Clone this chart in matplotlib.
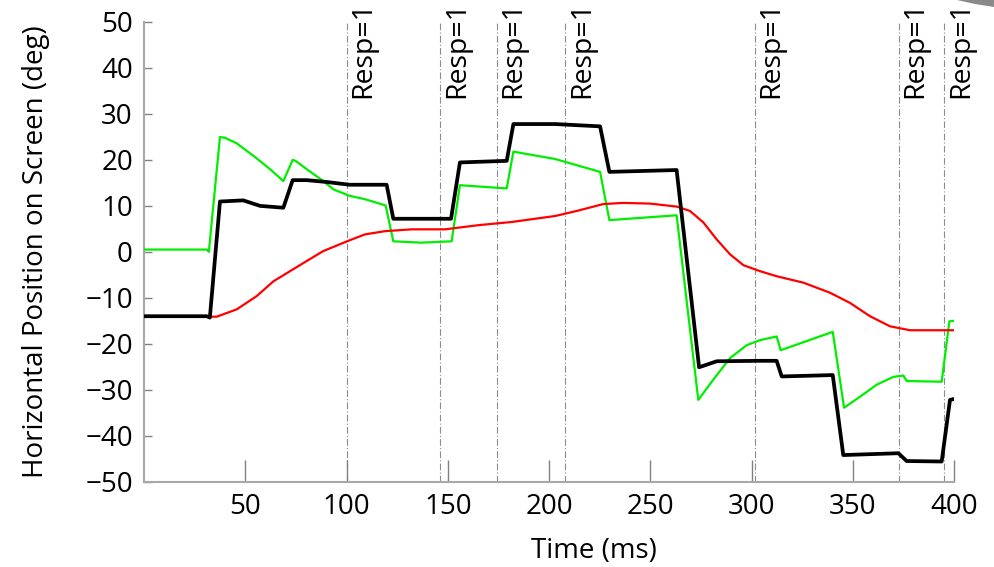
import matplotlib
matplotlib.use("Agg")
import matplotlib.pyplot as plt
from matplotlib.patches import Polygon

plt.rcParams["font.family"] = ["Open Sans", "DejaVu Sans"]

# Eye / target traces (time in ms, horizontal position in deg)
green_t = [0, 31, 32, 37.5, 40, 45.8, 54, 62.2, 68.8, 73.4, 74.8, 80.3, 88.5, 93.5, 101.4,
           109.1, 119.3, 123.1, 137, 151.9, 156, 179.1, 182.4, 203, 225.2, 229.8,
           263, 273.7, 281.1, 289.4, 297.6, 304.2, 312.4, 314.4, 340.1, 345.7,
           353.6, 361.8, 370, 375, 376.6, 393.9, 397.7, 400]
green_y = [0.5, 0.5, 0.0, 25.0, 24.8, 23.6, 20.9, 18.0, 15.4, 20.0, 19.8, 18.0, 15.4, 13.6, 12.2,
           11.45, 10.1, 2.3, 2.0, 2.3, 14.5, 13.8, 21.8, 20.2, 17.4, 6.9,
           7.96, -32.2, -27.8, -23.1, -20.3, -19.2, -18.4, -21.4, -17.4, -33.9,
           -31.5, -28.9, -27.2, -26.9, -28.1, -28.25, -15.1, -15.0]

black_t = [0, 31, 32.5, 37.5, 49, 57.3, 68.8, 73.4, 80.3, 90.2, 101.4, 119.8, 123.1,
           137, 151.6, 156, 179.1, 182.4, 203, 225.2, 229.8, 263, 274.1, 282.8,
           304.2, 312.4, 314.9, 340.1, 345.3, 372.5, 376.6, 393.9, 398, 400]
black_y = [-14.0, -14.0, -14.3, 10.95, 11.2, 10.0, 9.6, 15.6, 15.6, 15.2, 14.6, 14.6, 7.2,
           7.2, 7.2, 19.45, 19.8, 27.8, 27.8, 27.3, 17.4, 17.8, -25.1, -23.8,
           -23.7, -23.7, -27.1, -26.8, -44.2, -43.8, -45.5, -45.6, -32.2, -32.0]

red_t = [0, 35.9, 45.8, 55.7, 63.9, 72.1, 80.3, 88.5, 101.4, 109.1, 119, 132.2,
         148.6, 165, 181.6, 203, 213.7, 226.8, 236.7, 249.9, 263, 269.6, 276.2,
         282.8, 289.4, 296, 304.2, 312.4, 325.6, 338.8, 348.6, 358.5, 368.4, 378.3, 400]
red_y = [-14.1, -14.1, -12.5, -9.6, -6.4, -4.2, -2.0, 0.17, 2.5, 3.8, 4.5, 4.9,
         4.9, 5.8, 6.5, 7.8, 8.9, 10.4, 10.65, 10.5, 9.85, 8.9, 6.4,
         2.7, -0.55, -2.9, -4.2, -5.3, -6.7, -8.9, -11.1, -14.0, -16.2, -17.05, -17.05]

# Response events
resp_t = [100, 146.3, 174.2, 208, 301.5, 372.7, 395.2]
resp_label = "Resp=1"

x_ticks = [50, 100, 150, 200, 250, 300, 350, 400]
y_ticks = [-50, -40, -30, -20, -10, 0, 10, 20, 30, 40, 50]

fig = plt.figure(figsize=(9.94, 5.67), dpi=100)
ax = fig.add_axes([0.1449, 0.1504, 0.9598 - 0.1449, 0.9612 - 0.1504])

for t in resp_t:
    ax.axvline(t, color="#8c8c8c", lw=0.8, dashes=(6, 2, 1, 2), zorder=1)
    ax.annotate(resp_label, xy=(t, 54.6), xytext=(2, 0), textcoords="offset points",
                rotation=90, ha="left", va="top", fontsize=20.5, annotation_clip=False)

ax.plot(green_t, green_y, color="#00ee00", lw=1.6, zorder=3)
ax.plot(red_t, red_y, color="#ff0000", lw=1.6, zorder=3)
ax.plot(black_t, black_y, color="black", lw=2.7, zorder=4)

ax.set_xlim(0, 400)
ax.set_ylim(-50, 50)
ax.set_xticks(x_ticks)
ax.set_yticks(y_ticks)
ax.set_xticklabels([str(v) for v in x_ticks])
ax.set_yticklabels(["\u2212" + str(-v) if v < 0 else str(v) for v in y_ticks])

for side in ("top", "right"):
    ax.spines[side].set_visible(False)
for side in ("left", "bottom"):
    ax.spines[side].set_color("#a8a8a8")
    ax.spines[side].set_linewidth(1.5)

ax.tick_params(axis="x", direction="in", length=16, width=1, color="#808080",
               labelsize=20, pad=8)
ax.tick_params(axis="y", direction="in", length=6, width=1, color="#808080",
               labelsize=20, pad=8)

ax.set_ylabel("Horizontal Position on Screen (deg)", fontsize=20)
ax.yaxis.set_label_coords(-0.116, 0.5)
fig.text(594 / 994, 1 - 551 / 567, "Time (ms)", ha="center", va="center", fontsize=20)

# small shaded corner
corner = Polygon([[957 / 994, 1.0], [1.0, 1.0], [1.0, 1 - 7 / 567], [975 / 994, 1 - 4 / 567]],
                 closed=True, transform=fig.transFigure, facecolor="#8a8a8a",
                 edgecolor="none")
fig.patches.append(corner)

fig.savefig("out.png", dpi=100)
